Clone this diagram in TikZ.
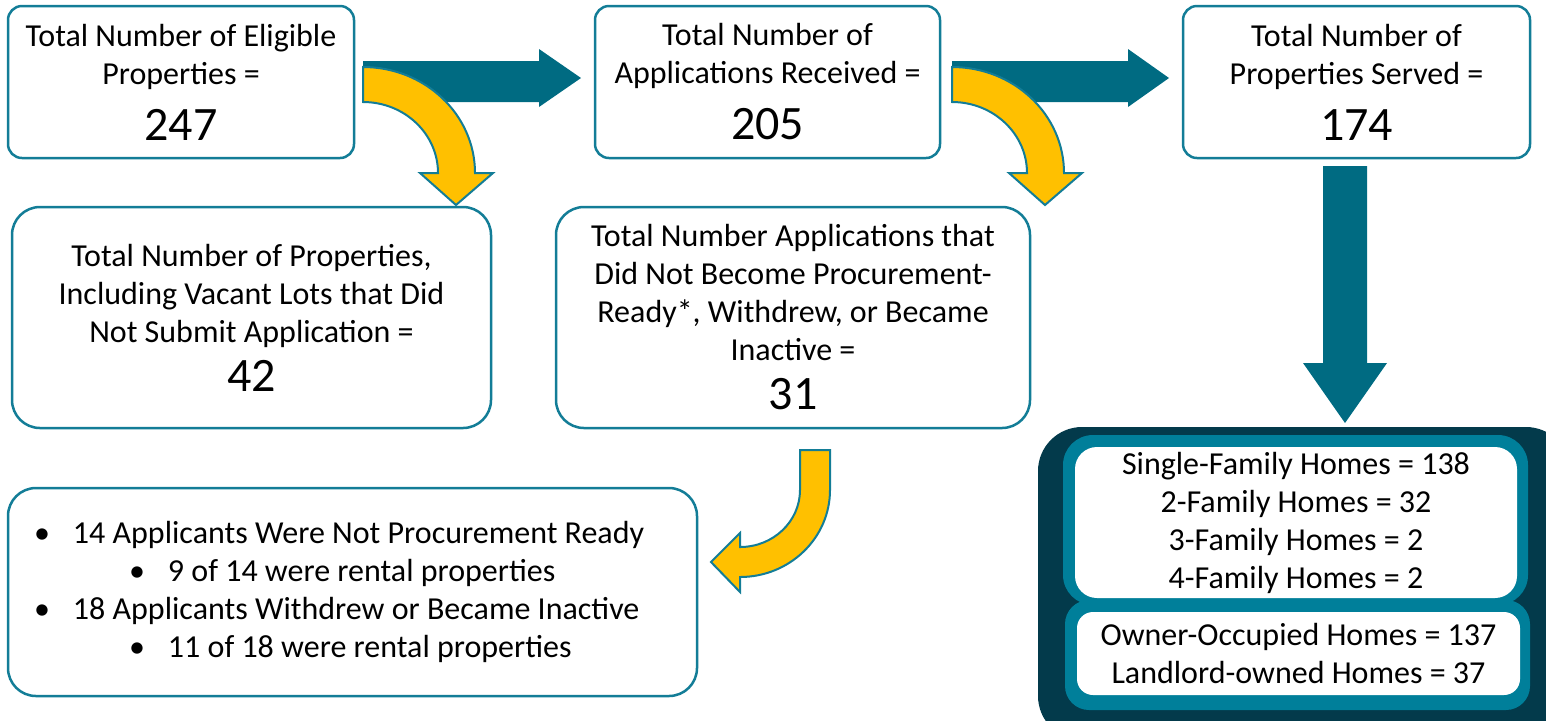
\documentclass[tikz,border=0pt]{standalone}
\usepackage{fontspec}
\setmainfont{Carlito}
\definecolor{boxline}{HTML}{137D97}
\definecolor{arrowblue}{HTML}{006B82}
\definecolor{gold}{HTML}{FFC000}
\definecolor{deepteal}{HTML}{033A4B}
\definecolor{midteal}{HTML}{007F9A}
\newcommand{\bignum}{\fontsize{24pt}{28pt}\selectfont}
\newcommand{\bulletline}[2]{\hspace*{#1}\makebox[16pt]{\textbullet}\hspace*{7.5pt}#2}
\tikzset{
    infobox/.style = {
        rectangle, rounded corners=#1, draw=boxline, line width=1.25pt,
        fill=white, align=center, inner sep=0pt
    },
    homebox/.style = {
        rectangle, rounded corners=#1, fill=white, align=center, inner sep=0pt
    },
    goldarrow/.style = {
        fill=gold, draw=boxline, line width=1pt
    },
    turndown/.pic = {
        \path[goldarrow] (0,0) .. controls (61.9,0) and (112,47.5) .. (112,106)
            -- (130,106) -- (93,138) -- (57,106) -- (75,106)
            .. controls (75,66.8) and (41.4,35) .. (0,35) -- cycle;
    }
}

\begin{document}
\begin{tikzpicture}[x=0.5pt, y=-0.5pt, font=\fontsize{16pt}{19pt}\selectfont]
    \useasboundingbox (0,0) rectangle (1546,720);
    \clip (0,0) rectangle (1546,720);

    \node[infobox=7pt, minimum width=173pt, minimum height=76pt] (eligible) at (181,82)
        {Total Number of Eligible\\Properties =\\[9pt]{\bignum 247}};
    \node[infobox=7pt, minimum width=172.5pt, minimum height=76pt] (received) at (767.5,82)
        {Total Number of\\Applications Received =\\[9pt]{\bignum 205}};
    \node[infobox=7pt, minimum width=173.5pt, minimum height=76pt] (served) at (1356.5,82)
        {Total Number of\\Properties Served =\\[9pt]{\bignum 174}};
    \node[infobox=14pt, minimum width=239.5pt, minimum height=110.5pt] (nosubmit) at (251.5,317.5)
        {Total Number of Properties,\\Including Vacant Lots that Did\\Not Submit Application =\\[5.5pt]{\bignum 42}};
    \node[infobox=14pt, minimum width=237pt, minimum height=110.5pt] (notready) at (793,317.5)
        {Total Number Applications that\\Did Not Become Procurement-\\Ready*, Withdrew, or Became\\Inactive =\\[5.5pt]{\bignum 31}};
    \node[infobox=14pt, align=flush left, text width=326.5pt, inner xsep=9pt, minimum height=104pt] (details) at (352.5,592)
        {\bulletline{0pt}{14 Applicants Were Not Procurement Ready}\\
         \bulletline{47.5pt}{9 of 14 were rental properties}\\
         \bulletline{0pt}{18 Applicants Withdrew or Became Inactive}\\
         \bulletline{47.5pt}{11 of 18 were rental properties}};

    \fill[deepteal, rounded corners=22pt] (1038,427) rectangle (1570,740);
    \fill[midteal, rounded corners=15pt] (1063,435) rectangle (1528,605);
    \fill[midteal, rounded corners=12pt] (1065,600) rectangle (1530,710);
    \node[homebox=11pt, minimum width=221pt, minimum height=75.5pt] (types) at (1296,522.5)
        {Single-Family Homes = 138\\2-Family Homes = 32\\3-Family Homes = 2\\4-Family Homes = 2};
    \node[homebox=8pt, minimum width=221.5pt, minimum height=41.5pt] (tenure) at (1298.5,653.5)
        {Owner-Occupied Homes = 137\\Landlord-owned Homes = 37};

    \fill[arrowblue] (363,61) -- (539,61) -- (539,49) -- (581,78) -- (539,107) -- (539,102) -- (363,102) -- cycle;
    \fill[arrowblue] (952,61) -- (1128,61) -- (1128,49) -- (1169,78) -- (1128,107) -- (1128,102) -- (952,102) -- cycle;
    \fill[arrowblue] (1323,166) -- (1367,166) -- (1367,363) -- (1387,363) -- (1345,423) -- (1303,363) -- (1323,363) -- cycle;

    \pic at (363,67) {turndown};
    \pic at (952,67) {turndown};
    \path[goldarrow] (800,450) -- (830,450) -- (830,490)
        .. controls (830,538) and (789.7,577) .. (740,577)
        -- (740,592) -- (711,562) -- (740,533) -- (740,547)
        .. controls (773.1,547) and (800,521.5) .. (800,490) -- cycle;
\end{tikzpicture}
\end{document}
